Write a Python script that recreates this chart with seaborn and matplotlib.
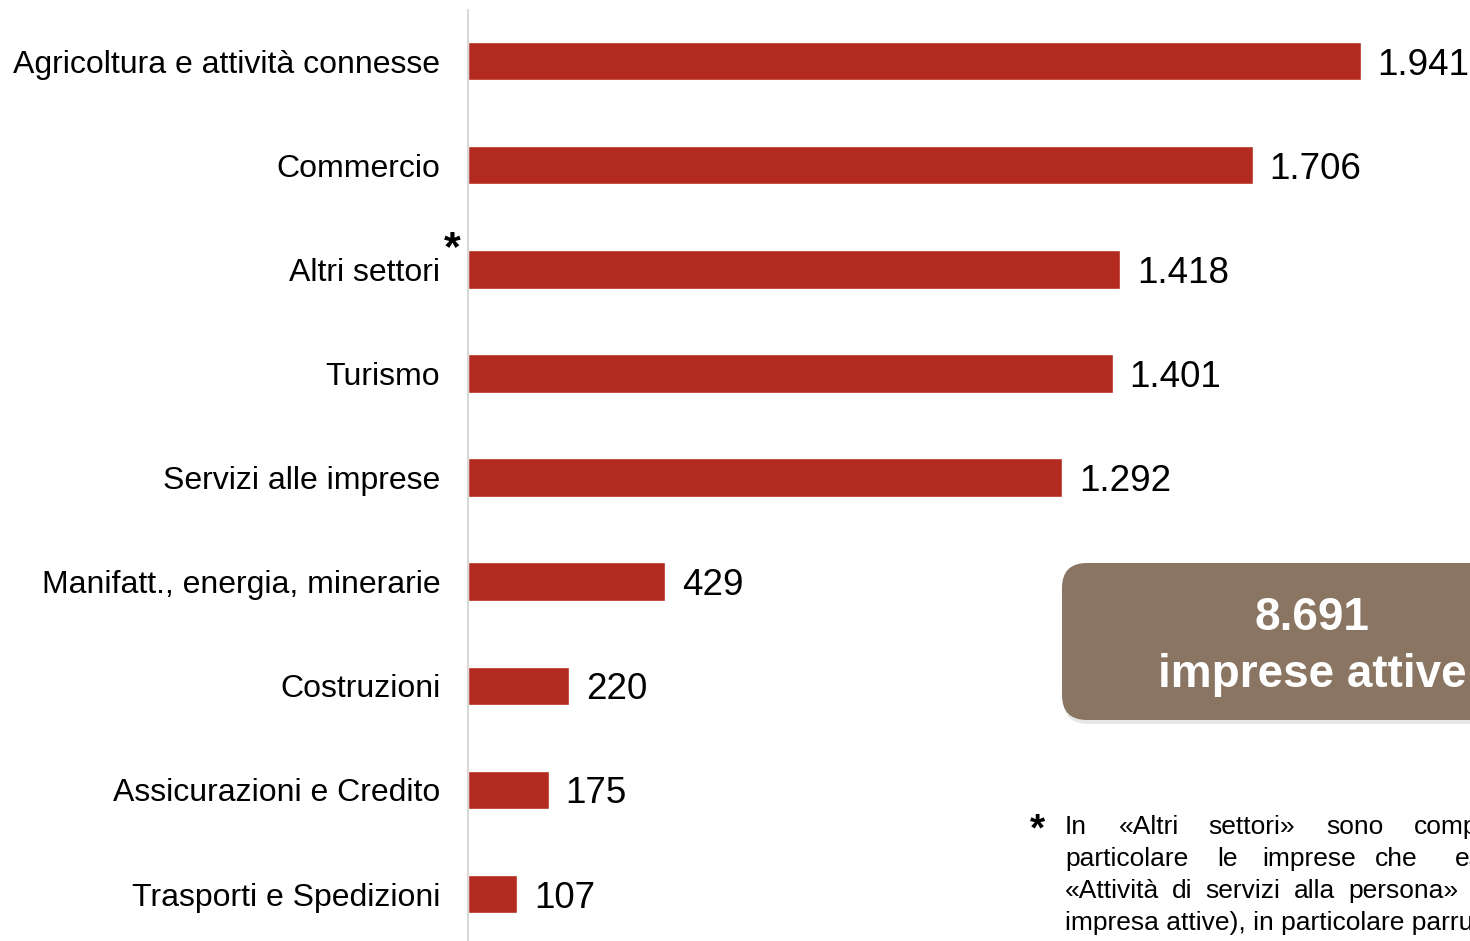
import matplotlib
matplotlib.use("Agg")
import matplotlib.pyplot as plt
from matplotlib.patches import FancyBboxPatch
import seaborn as sns
import pandas as pd

# dati
settori = ["Agricoltura e attività connesse", "Commercio", "Altri settori", "Turismo",
           "Servizi alle imprese", "Manifatt., energia, minerarie", "Costruzioni",
           "Assicurazioni e Credito", "Trasporti e Spedizioni"]
imprese = [1941, 1706, 1418, 1401, 1292, 429, 220, 175, 107]
totale = "8.691"
totale_label = "imprese attive"

df = pd.DataFrame({"settore": settori, "imprese": imprese})

sns.set_style("white")
plt.rcParams["font.family"] = ["Liberation Sans", "DejaVu Sans"]
plt.rcParams["text.color"] = "black"

fig = plt.figure(figsize=(14.7, 9.41), dpi=100)
ax = fig.add_axes([468 / 1470, 0, 1 - 468 / 1470, (941 - 10) / 941])

sns.barplot(data=df, x="imprese", y="settore", color="#B22A20", saturation=1,
            width=0.37, ax=ax)

ax.set_xlim(0, 2178)
ax.set_ylim(8.45, -0.49)
ax.set_xlabel("")
ax.set_ylabel("")
ax.set_xticks([])
ax.tick_params(axis="y", length=0, pad=20, labelsize=23, labelcolor="black")
for s in ["top", "right", "bottom"]:
    ax.spines[s].set_visible(False)
ax.spines["left"].set_color("#D9D9D9")
ax.spines["left"].set_linewidth(1.5)

# etichette valori, con separatore delle migliaia all'italiana
etichette = [f"{v:,}".replace(",", ".") for v in imprese]
testi = ax.bar_label(ax.containers[0], labels=etichette, padding=12, fontsize=26.5,
                     color="black")
for t in testi:
    t.set_va("center_baseline")

# asterisco su "Altri settori"
fig.text(452 / 1470, 1 - 249 / 941, "*", fontsize=31, fontweight="bold",
         ha="center", va="center")

# riquadro totale
tr = fig.dpi_scale_trans
ombra = FancyBboxPatch((10.63, 2.17), 5.2, 1.57, boxstyle="round,pad=0,rounding_size=0.25",
                       transform=tr, facecolor="#D0D0D0", edgecolor="none", alpha=0.5)
box = FancyBboxPatch((10.62, 2.21), 5.2, 1.57, boxstyle="round,pad=0,rounding_size=0.25",
                     transform=tr, facecolor="#8A7462", edgecolor="none")
fig.patches.extend([ombra, box])
fig.text(13.12, 3.23, totale, transform=tr, ha="center", va="center",
         fontsize=33, fontweight="bold", color="white")
fig.text(13.12, 2.66, totale_label, transform=tr, ha="center", va="center",
         fontsize=33, fontweight="bold", color="white")

# nota (testo giustificato, tagliato al bordo come nell'originale)
fig.text(10.37, 9.41 - 8.30, "*", transform=tr, ha="center", va="center",
         fontsize=28, fontweight="bold")
nota_righe = [
    [("In", 1065), ("«Altri", 1119), ("settori»", 1208), ("sono", 1326), ("compresi", 1414)],
    [("particolare", 1065), ("le", 1217), ("imprese", 1262), ("che", 1375), ("esercitano", 1455)],
]
for i, riga in enumerate(nota_righe):
    y = 9.41 - (827 + 32 * i) / 100
    for parola, x in riga:
        fig.text(x / 100, y, parola, transform=tr, ha="left", va="center", fontsize=19)

# terza riga: parole distribuite fino a circa x=1458
renderer = fig.canvas.get_renderer()
parole3 = ["«Attività", "di", "servizi", "alla", "persona»"]
y3 = 9.41 - (827 + 64) / 100
oggetti = [fig.text(0, y3, p, transform=tr, ha="left", va="center", fontsize=19) for p in parole3]
larghezze = [o.get_window_extent(renderer).width for o in oggetti]
gap = (1458 - 1065 - sum(larghezze)) / (len(parole3) - 1)
x = 1065
for o, w in zip(oggetti, larghezze):
    o.set_x(x / 100)
    x += w + gap
fig.text(x / 100, y3, "(circa", transform=tr, ha="left", va="center", fontsize=19)

fig.text(10.65, 9.41 - (827 + 96) / 100, "impresa attive), in particolare parrucchieri",
         transform=tr, ha="left", va="center", fontsize=19)

fig.savefig("out.png", dpi=100)
